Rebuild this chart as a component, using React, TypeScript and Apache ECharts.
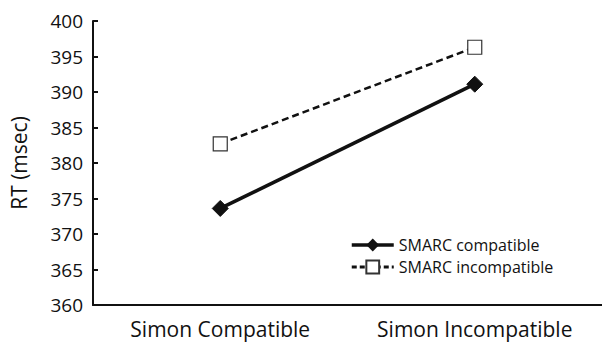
import React, { useEffect, useRef } from "react";
import * as echarts from "echarts";

const categories = ["Simon Compatible", "Simon Incompatible"];
const smarcCompatible = [373.6, 391.1];
const smarcIncompatible = [382.7, 396.3];
const yTicks = { min: 360, max: 400, interval: 5 };

const FONT = "Open Sans";

export default function App() {
  const ref = useRef<HTMLDivElement>(null);
  useEffect(() => {
    if (!ref.current) return;
    const chart = echarts.init(ref.current, null, { renderer: "svg" });
    chart.setOption({
      animation: false,
      backgroundColor: "#ffffff",
      grid: { left: 89, right: 0, top: 21, bottom: 38 },
      legend: {
        orient: "vertical",
        left: 350,
        top: 237,
        padding: 0,
        itemWidth: 42,
        itemHeight: 16,
        itemGap: 6,
        textStyle: { fontFamily: FONT, fontSize: 16, color: "#111" },
        data: [
          { name: "SMARC compatible", lineStyle: { width: 3.5 } },
          { name: "SMARC incompatible", lineStyle: { width: 3, type: [5, 3] } },
        ],
      },
      xAxis: {
        type: "category",
        data: categories,
        boundaryGap: true,
        axisLine: { lineStyle: { color: "#111", width: 2 } },
        axisTick: { inside: true, length: 5, lineStyle: { color: "#111", width: 2 } },
        axisLabel: { fontFamily: FONT, fontSize: 21, color: "#111", margin: 13 },
      },
      yAxis: {
        type: "value",
        min: yTicks.min,
        max: yTicks.max,
        interval: yTicks.interval,
        name: "RT (msec)",
        nameLocation: "middle",
        nameGap: 64,
        nameTextStyle: { fontFamily: FONT, fontSize: 21, color: "#111" },
        splitLine: { show: false },
        axisLine: { show: true, lineStyle: { color: "#111", width: 2 } },
        axisTick: { show: true, inside: true, length: 5, lineStyle: { color: "#111", width: 2 } },
        axisLabel: { fontFamily: FONT, fontSize: 19, color: "#111", margin: 10 },
      },
      series: [
        {
          name: "SMARC compatible",
          type: "line",
          data: smarcCompatible,
          symbol: "diamond",
          symbolSize: 16,
          lineStyle: { color: "#111", width: 3.5 },
          itemStyle: { color: "#111", borderColor: "#111" },
        },
        {
          name: "SMARC incompatible",
          type: "line",
          data: smarcIncompatible,
          symbol: "rect",
          symbolSize: 14,
          lineStyle: { color: "#111", width: 2.5, type: [7, 4] },
          itemStyle: { color: "#ffffff", borderColor: "#333", borderWidth: 1.2 },
        },
      ],
    });
    return () => chart.dispose();
  }, []);
  return (
    <div
      ref={ref}
      style={{ position: "fixed", left: 0, top: 0, width: 602, height: 343 }}
    />
  );
}
